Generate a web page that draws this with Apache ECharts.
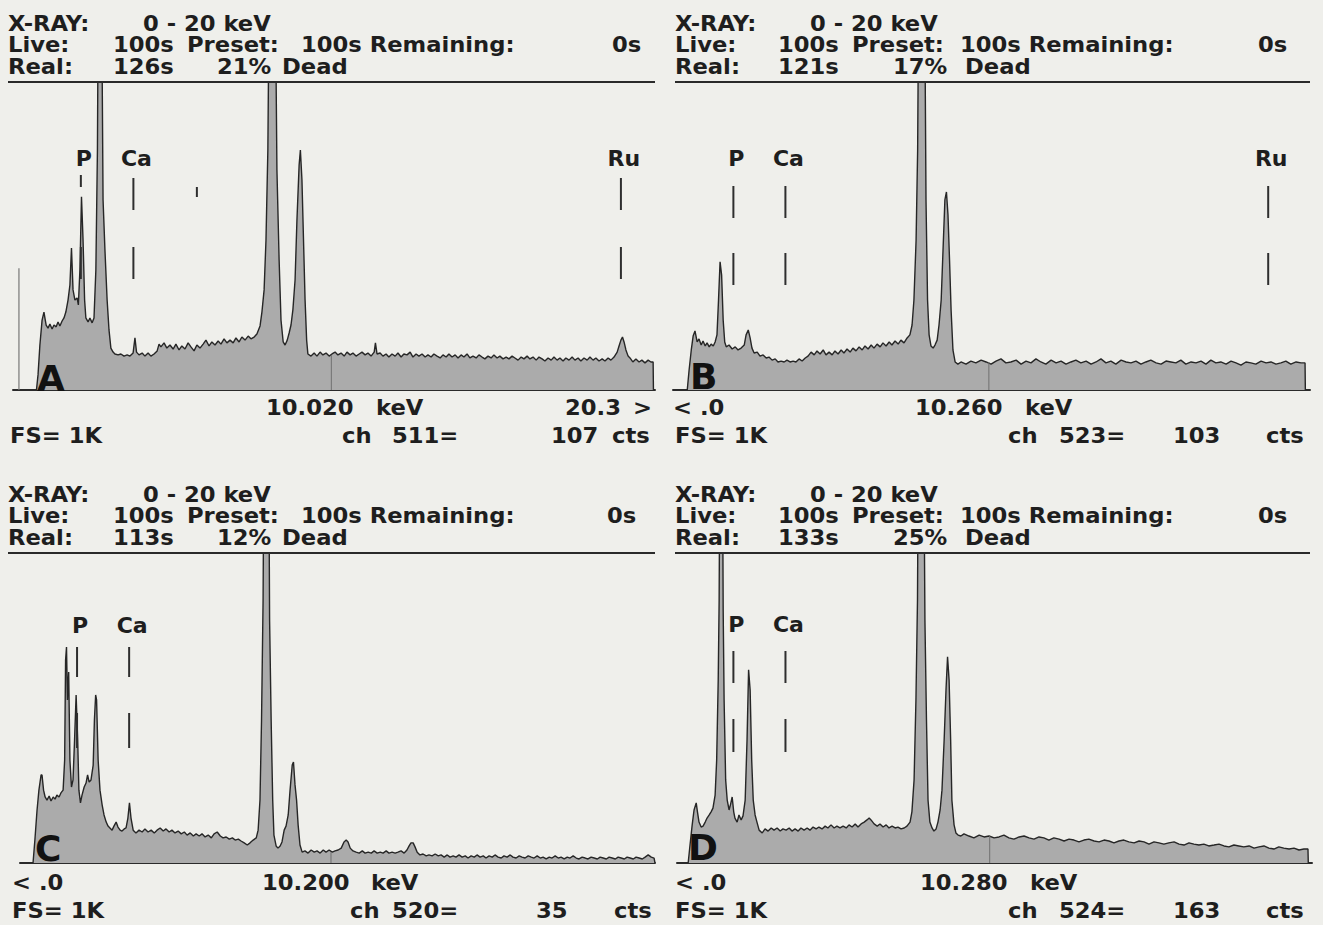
<!DOCTYPE html>
<html><head><meta charset="utf-8">
<script src="https://cdn.jsdelivr.net/npm/echarts/dist/echarts.min.js"></script>
<style>html,body{margin:0;padding:0;background:#efefeb;}#c{width:1323px;height:925px;}</style>
</head><body><div id="c"></div>
<script>
// ---------- DATA ----------
const panelIds = ['A','B','C','D'];
const energyRange = ['0 - 20 keV','0 - 20 keV','0 - 20 keV','0 - 20 keV'];
const liveTime = [100,100,100,100];
const presetTime = [100,100,100,100];
const remainingTime = [0,0,0,0];
const realTime = [126,121,113,133];
const deadPct = [21,17,12,25];
const cursorKeV = [10.020,10.260,10.200,10.280];
const cursorChannel = [511,523,520,524];
const cursorCounts = [107,103,35,163];
const cursorLevel = [114,91,35,87];   // height of the cursor line, counts on the display scale
const fullScale = ['1K','1K','1K','1K'];
const rangeLeft = ['', '< .0', '< .0', '< .0'];
const rangeRight = ['20.3', '', '', ''];
const zeroPeakA = [[0.03,0],[0.03,395]];

const markersA = [['P',2.01],['Ca',3.69],['',5.72],['Ru',19.28]];
const markersB = [['P',2.01],['Ca',3.69],['Ru',19.28]];
const markersC = [['P',2.01],['Ca',3.69]];
const markersD = [['P',2.01],['Ca',3.69]];

const specA = [[0.59,0],[0.64,49],[0.70,146],[0.77,227],[0.83,253],[0.86,234],[0.90,211],[0.96,201],[1.02,214],[1.09,198],[1.15,211],[1.22,205],[1.28,221],[1.34,208],[1.41,224],[1.47,234],[1.53,253],[1.60,292],[1.66,341],[1.71,461],[1.76,325],[1.82,292],[1.89,299],[1.93,276],[1.98,390],[2.03,627],[2.08,487],[2.13,292],[2.17,234],[2.24,221],[2.30,234],[2.37,218],[2.43,234],[2.49,390],[2.54,779],[2.57,1350],[2.62,1800],[2.67,1350],[2.72,617],[2.78,455],[2.85,292],[2.91,195],[2.97,136],[3.04,123],[3.10,117],[3.20,114],[3.29,117],[3.39,110],[3.49,114],[3.58,110],[3.68,120],[3.74,169],[3.79,123],[3.87,114],[3.97,120],[4.06,110],[4.16,120],[4.25,110],[4.35,117],[4.45,127],[4.51,149],[4.57,140],[4.67,153],[4.76,136],[4.86,146],[4.96,133],[5.05,149],[5.15,130],[5.24,143],[5.34,133],[5.44,153],[5.53,140],[5.63,127],[5.72,146],[5.82,136],[5.92,149],[6.01,162],[6.11,143],[6.20,156],[6.30,146],[6.40,159],[6.49,149],[6.59,166],[6.68,153],[6.78,162],[6.88,153],[6.97,169],[7.07,156],[7.16,172],[7.26,162],[7.36,175],[7.45,166],[7.55,172],[7.64,182],[7.74,208],[7.80,253],[7.87,325],[7.93,487],[7.99,779],[8.04,1400],[8.12,1800],[8.22,1400],[8.28,714],[8.35,422],[8.41,227],[8.48,156],[8.54,146],[8.61,162],[8.67,185],[8.73,211],[8.79,260],[8.86,357],[8.92,552],[8.99,731],[9.03,779],[9.08,682],[9.13,487],[9.18,292],[9.23,162],[9.27,117],[9.37,110],[9.47,120],[9.56,110],[9.66,123],[9.75,114],[9.85,120],[9.95,110],[10.04,117],[10.14,123],[10.23,114],[10.33,120],[10.43,110],[10.52,123],[10.62,114],[10.71,120],[10.81,110],[10.91,117],[11.00,123],[11.10,114],[11.19,120],[11.29,110],[11.39,123],[11.43,153],[11.48,117],[11.58,120],[11.67,110],[11.77,117],[11.86,107],[11.96,117],[12.06,110],[12.15,120],[12.25,107],[12.34,117],[12.44,114],[12.54,123],[12.63,107],[12.73,117],[12.82,110],[12.92,117],[13.02,107],[13.11,114],[13.21,107],[13.30,117],[13.40,110],[13.50,104],[13.59,114],[13.69,107],[13.78,117],[13.88,107],[13.98,114],[14.07,104],[14.17,114],[14.26,107],[14.36,117],[14.45,104],[14.55,110],[14.65,104],[14.74,114],[14.84,107],[14.93,101],[15.03,110],[15.13,104],[15.22,114],[15.32,104],[15.41,110],[15.51,101],[15.61,107],[15.70,101],[15.80,110],[15.89,104],[15.99,97],[16.09,107],[16.18,101],[16.28,110],[16.37,101],[16.47,107],[16.57,97],[16.66,107],[16.76,101],[16.85,94],[16.95,104],[17.05,97],[17.14,107],[17.24,97],[17.33,104],[17.43,94],[17.52,104],[17.62,97],[17.72,107],[17.81,97],[17.91,104],[18.00,94],[18.10,104],[18.20,97],[18.29,107],[18.39,97],[18.48,104],[18.58,94],[18.68,101],[18.77,94],[18.87,104],[18.96,97],[19.06,107],[19.16,123],[19.22,143],[19.28,162],[19.33,172],[19.38,156],[19.44,130],[19.51,110],[19.57,104],[19.66,91],[19.76,101],[19.86,91],[19.95,97],[20.05,88],[20.15,97],[20.24,91],[20.31,91],[20.32,0]];

const specB = [[0.52,0],[0.58,65],[0.65,130],[0.71,175],[0.77,192],[0.84,156],[0.90,166],[0.97,146],[1.03,159],[1.10,143],[1.16,153],[1.23,140],[1.29,149],[1.36,143],[1.42,156],[1.48,179],[1.53,292],[1.58,416],[1.63,373],[1.68,227],[1.73,156],[1.78,140],[1.87,146],[1.97,133],[2.07,140],[2.16,130],[2.26,136],[2.36,146],[2.42,179],[2.49,195],[2.55,169],[2.61,136],[2.68,120],[2.78,123],[2.87,110],[2.97,114],[3.07,104],[3.16,107],[3.26,97],[3.36,101],[3.45,91],[3.55,94],[3.65,91],[3.74,97],[3.84,91],[3.94,94],[4.03,91],[4.13,101],[4.23,94],[4.33,104],[4.42,110],[4.52,123],[4.62,114],[4.71,127],[4.81,117],[4.91,130],[5.00,114],[5.10,123],[5.20,114],[5.29,127],[5.39,117],[5.49,130],[5.58,120],[5.68,133],[5.78,123],[5.87,136],[5.97,127],[6.07,140],[6.17,130],[6.26,143],[6.36,133],[6.46,146],[6.55,136],[6.65,149],[6.75,140],[6.84,153],[6.94,143],[7.04,156],[7.13,146],[7.23,159],[7.33,149],[7.42,162],[7.52,153],[7.62,169],[7.71,179],[7.78,211],[7.84,292],[7.91,487],[7.96,779],[8.00,1400],[8.10,1800],[8.18,1400],[8.23,617],[8.28,292],[8.33,179],[8.39,143],[8.46,136],[8.52,146],[8.59,162],[8.65,211],[8.72,292],[8.78,455],[8.84,617],[8.89,643],[8.94,568],[8.99,422],[9.04,260],[9.10,130],[9.17,91],[9.26,84],[9.36,91],[9.52,84],[9.68,94],[9.84,88],[10.01,97],[10.17,91],[10.33,84],[10.49,94],[10.65,101],[10.81,88],[10.97,91],[11.14,97],[11.30,84],[11.46,94],[11.62,88],[11.78,101],[11.94,91],[12.10,84],[12.27,97],[12.43,88],[12.59,94],[12.75,84],[12.91,91],[13.07,97],[13.23,88],[13.40,94],[13.56,84],[13.72,91],[13.88,101],[14.04,88],[14.20,94],[14.36,84],[14.53,97],[14.69,91],[14.85,88],[15.01,94],[15.17,84],[15.33,91],[15.49,97],[15.66,88],[15.82,84],[15.98,94],[16.14,91],[16.30,88],[16.46,97],[16.62,84],[16.79,91],[16.95,88],[17.11,94],[17.27,84],[17.43,97],[17.59,88],[17.75,91],[17.92,84],[18.08,94],[18.24,88],[18.40,81],[18.56,91],[18.72,88],[18.88,84],[19.05,94],[19.21,88],[19.37,91],[19.53,84],[19.69,88],[19.85,94],[20.01,84],[20.18,91],[20.34,88],[20.47,88],[20.48,0]];

const specC = [[0.59,0],[0.65,74],[0.72,171],[0.78,235],[0.85,284],[0.88,284],[0.93,235],[0.98,213],[1.04,203],[1.11,216],[1.17,200],[1.24,213],[1.30,206],[1.36,219],[1.43,213],[1.49,226],[1.56,235],[1.61,332],[1.64,655],[1.67,697],[1.70,526],[1.74,616],[1.78,332],[1.83,245],[1.88,268],[1.93,397],[1.98,542],[2.03,397],[2.07,235],[2.12,194],[2.17,219],[2.24,245],[2.30,258],[2.35,284],[2.40,261],[2.46,268],[2.53,316],[2.57,461],[2.61,542],[2.64,526],[2.69,332],[2.75,235],[2.82,187],[2.88,155],[2.95,132],[3.01,119],[3.07,113],[3.14,106],[3.20,119],[3.27,132],[3.33,116],[3.40,106],[3.46,103],[3.53,110],[3.59,113],[3.65,145],[3.70,194],[3.75,145],[3.82,106],[3.91,97],[4.01,106],[4.11,100],[4.20,110],[4.30,100],[4.40,106],[4.50,97],[4.59,106],[4.69,113],[4.79,103],[4.88,110],[4.98,100],[5.07,106],[5.17,97],[5.27,103],[5.37,94],[5.47,100],[5.56,90],[5.66,97],[5.76,87],[5.85,94],[5.95,87],[6.04,94],[6.14,84],[6.24,90],[6.34,81],[6.43,94],[6.53,100],[6.63,87],[6.72,81],[6.82,84],[6.92,77],[7.02,81],[7.11,74],[7.21,77],[7.30,71],[7.40,65],[7.50,58],[7.59,65],[7.69,74],[7.79,81],[7.85,106],[7.91,203],[7.96,461],[8.01,848],[8.04,1400],[8.12,1800],[8.19,1400],[8.22,784],[8.27,461],[8.32,203],[8.36,90],[8.43,55],[8.49,48],[8.56,55],[8.62,68],[8.69,106],[8.75,119],[8.82,155],[8.88,235],[8.95,316],[8.99,326],[9.04,252],[9.09,203],[9.14,123],[9.20,58],[9.27,35],[9.36,39],[9.46,32],[9.56,42],[9.66,35],[9.75,39],[9.85,32],[9.95,42],[10.04,35],[10.14,42],[10.24,35],[10.33,39],[10.43,42],[10.53,48],[10.62,68],[10.69,74],[10.75,68],[10.82,48],[10.91,39],[11.01,35],[11.11,32],[11.21,39],[11.30,32],[11.40,35],[11.50,32],[11.59,39],[11.69,32],[11.79,35],[11.88,32],[11.98,39],[12.07,32],[12.17,35],[12.27,32],[12.36,35],[12.46,39],[12.56,32],[12.65,42],[12.72,55],[12.78,65],[12.85,65],[12.91,52],[12.98,35],[13.07,26],[13.17,29],[13.27,23],[13.36,26],[13.46,23],[13.56,29],[13.66,23],[13.75,26],[13.85,19],[13.95,26],[14.04,19],[14.14,23],[14.23,19],[14.33,26],[14.43,19],[14.53,23],[14.62,16],[14.72,23],[14.82,19],[14.91,26],[15.01,19],[15.11,23],[15.20,16],[15.30,23],[15.40,19],[15.49,26],[15.59,19],[15.69,16],[15.78,23],[15.88,19],[15.98,26],[16.07,19],[16.17,16],[16.27,23],[16.36,19],[16.46,16],[16.56,23],[16.66,19],[16.75,16],[16.85,23],[16.95,16],[17.04,19],[17.14,13],[17.24,19],[17.33,16],[17.43,23],[17.53,16],[17.62,19],[17.72,13],[17.82,19],[17.91,16],[18.01,23],[18.11,16],[18.20,13],[18.30,19],[18.40,16],[18.49,13],[18.59,19],[18.69,16],[18.79,13],[18.88,19],[18.98,16],[19.08,13],[19.17,19],[19.27,16],[19.37,13],[19.46,19],[19.56,16],[19.66,13],[19.75,19],[19.85,16],[19.95,13],[20.04,19],[20.14,16],[20.24,13],[20.33,19],[20.43,26],[20.53,19],[20.62,16],[20.65,0]];

const specD = [[0.55,0],[0.61,58],[0.68,123],[0.74,171],[0.81,194],[0.85,165],[0.90,132],[0.97,116],[1.03,119],[1.10,132],[1.16,145],[1.23,155],[1.29,165],[1.35,177],[1.42,219],[1.47,332],[1.52,590],[1.55,848],[1.58,1500],[1.62,1800],[1.65,1500],[1.68,816],[1.71,526],[1.76,268],[1.81,203],[1.87,171],[1.92,190],[1.97,213],[2.02,165],[2.06,145],[2.13,132],[2.19,155],[2.26,139],[2.32,152],[2.39,203],[2.45,397],[2.50,623],[2.55,558],[2.60,332],[2.65,203],[2.71,155],[2.77,132],[2.84,106],[2.94,97],[3.03,110],[3.13,103],[3.23,113],[3.32,106],[3.42,113],[3.52,103],[3.61,110],[3.71,106],[3.81,113],[3.90,103],[4.00,110],[4.10,103],[4.19,113],[4.29,106],[4.39,113],[4.48,106],[4.58,116],[4.68,110],[4.77,116],[4.87,110],[4.97,119],[5.06,113],[5.16,123],[5.26,113],[5.35,119],[5.45,113],[5.55,119],[5.65,113],[5.74,123],[5.84,116],[5.94,126],[6.03,116],[6.13,126],[6.23,132],[6.32,139],[6.39,145],[6.45,139],[6.55,126],[6.65,119],[6.74,126],[6.84,116],[6.94,123],[7.03,113],[7.13,119],[7.23,113],[7.32,116],[7.42,110],[7.52,113],[7.61,119],[7.71,132],[7.77,165],[7.84,268],[7.90,526],[7.95,848],[7.98,1400],[8.06,1800],[8.15,1400],[8.19,784],[8.24,461],[8.29,203],[8.35,132],[8.42,113],[8.48,103],[8.55,110],[8.61,132],[8.68,171],[8.74,235],[8.81,397],[8.87,558],[8.92,665],[8.97,590],[9.02,397],[9.06,203],[9.13,123],[9.19,97],[9.26,90],[9.35,87],[9.45,94],[9.61,87],[9.77,81],[9.94,90],[10.10,84],[10.26,87],[10.42,81],[10.58,84],[10.74,90],[10.90,81],[11.06,77],[11.23,84],[11.39,87],[11.55,81],[11.71,77],[11.87,84],[12.03,81],[12.19,74],[12.35,81],[12.52,77],[12.68,71],[12.84,77],[13.00,74],[13.16,68],[13.32,74],[13.48,77],[13.65,71],[13.81,68],[13.97,74],[14.13,71],[14.29,65],[14.45,71],[14.61,74],[14.77,68],[14.94,65],[15.10,71],[15.26,68],[15.42,61],[15.58,68],[15.74,65],[15.90,61],[16.06,65],[16.23,68],[16.39,61],[16.55,58],[16.71,65],[16.87,61],[17.03,58],[17.19,61],[17.35,55],[17.52,58],[17.68,61],[17.84,55],[18.00,52],[18.16,58],[18.32,55],[18.48,52],[18.65,55],[18.81,48],[18.97,52],[19.13,55],[19.29,48],[19.45,45],[19.61,52],[19.77,48],[19.94,45],[20.10,48],[20.26,42],[20.42,45],[20.55,45],[20.56,0]];

const spectra = [specA, specB, specC, specD];
const markers = [markersA, markersB, markersC, markersD];

// ---------- LAYOUT ----------
const INK = '#1e1e1e';
const layout = [
  {grid:{left:13, top:82, width:642, height:308}, xmin:-0.16, xmax:20.37, hline:[8,655,82],
   hx:{xray:8, range:143, live:8, liveVal:113, preset:187, presetVal:301, remain:612, real:8, realVal:113, dead:217, deadW:282},
   hy:[23.5,45,66.5], fy:[408,436],
   fx:{left:8, cur:266, kev:376, right:565, arrow:633, fs:10, ch:342, chv:392, cnt:551, cts:612},
   letter:[37,378], lab:76, segs:[[96,128],[165,197]], segOver:{0:[[93,105],[165,197]],2:[[105,115]]}},
  {grid:{left:673, top:82, width:637, height:308}, xmin:0.06, xmax:20.63, hline:[675,1310,82],
   hx:{xray:675, range:810, live:675, liveVal:778, preset:852, presetVal:960, remain:1258, real:675, realVal:778, dead:893, deadW:965},
   hy:[23.5,45,66.5], fy:[408,436],
   fx:{left:673, cur:915, kev:1025, right:1240, arrow:1290, fs:675, ch:1008, chv:1059, cnt:1173, cts:1266},
   letter:[690,376], lab:76, segs:[[104,136],[171,203]], segOver:{}},
  {grid:{left:20, top:553, width:635, height:310}, xmin:0.17, xmax:20.65, hline:[8,655,553],
   hx:{xray:8, range:143, live:8, liveVal:113, preset:187, presetVal:301, remain:607, real:8, realVal:113, dead:217, deadW:282},
   hy:[494.5,516,537.5], fy:[883,911],
   fx:{left:12, cur:262, kev:371, right:565, arrow:633, fs:12, ch:350, chv:392, cnt:536, cts:614},
   letter:[35,848], lab:72, segs:[[94,124],[160,195]], segOver:{}},
  {grid:{left:677, top:553, width:635, height:310}, xmin:0.19, xmax:20.68, hline:[675,1310,553],
   hx:{xray:675, range:810, live:675, liveVal:778, preset:852, presetVal:960, remain:1258, real:675, realVal:778, dead:893, deadW:965},
   hy:[494.5,516,537.5], fy:[883,911],
   fx:{left:675, cur:920, kev:1030, right:1240, arrow:1290, fs:675, ch:1008, chv:1059, cnt:1173, cts:1266},
   letter:[688,847], lab:71, segs:[[98,130],[166,199]], segOver:{}}
];

function T(x, y, text) {
  return {type:'text', x:x, y:y, scaleX:1.08, z:100, silent:true,
    style:{text:text, fill:INK, fontFamily:'DejaVu Sans', fontWeight:'bold', fontSize:21,
           align:'left', verticalAlign:'middle'}};
}

const grids=[], xAxes=[], yAxes=[], series=[], graphics=[];
panelIds.forEach((id, i) => {
  const L = layout[i];
  grids.push(L.grid);
  xAxes.push({type:'value', gridIndex:i, min:L.xmin, max:L.xmax,
    axisLine:{show:true, onZero:false, lineStyle:{color:'#2a2a2a', width:2}},
    axisTick:{show:false}, axisLabel:{show:false}, splitLine:{show:false}});
  yAxes.push({type:'value', gridIndex:i, min:0, max:1000, show:false, splitLine:{show:false}});
  series.push({type:'line', xAxisIndex:i, yAxisIndex:i, data:spectra[i], symbol:'none', clip:true,
    lineStyle:{color:'#262626', width:1.4}, areaStyle:{color:'#ababab', opacity:1}, z:2, silent:true});
  series.push({type:'line', xAxisIndex:i, yAxisIndex:i, data:[[cursorKeV[i],0],[cursorKeV[i],cursorLevel[i]]],
    symbol:'none', lineStyle:{color:'#707070', width:1}, z:3, silent:true});
  if (i === 0) {
    series.push({type:'line', xAxisIndex:0, yAxisIndex:0, data:zeroPeakA, symbol:'none',
      lineStyle:{color:'#777', width:1.2}, z:3, silent:true});
  }
  const mk = markers[i];
  series.push({type:'custom', xAxisIndex:i, yAxisIndex:i, z:4, silent:true,
    data: mk.map(m => [m[1], 0]),
    renderItem: function(params, api) {
      const m = mk[params.dataIndex];
      const x = api.coord([api.value(0), 0])[0];
      const top = params.coordSys.y;
      const segs = L.segOver[params.dataIndex] || L.segs;
      const ch = segs.map(s => ({type:'rect', shape:{x:x-1, y:top+s[0], width:2, height:s[1]-s[0]},
        style:{fill:'#2e2e2e'}}));
      if (m[0]) ch.push({type:'text', style:{text:m[0], x:x+3, y:top+L.lab, align:'center', verticalAlign:'middle',
        fontFamily:'DejaVu Sans', fontWeight:'bold', fontSize:22, fill:INK}});
      return {type:'group', children:ch};
    }});

  // header
  const hx = L.hx, hy = L.hy;
  graphics.push({type:'line', z:100, shape:{x1:L.hline[0], y1:L.hline[2], x2:L.hline[1], y2:L.hline[2]},
    style:{stroke:'#2a2a2a', lineWidth:2}});
  graphics.push(T(hx.xray, hy[0], 'X-RAY:'));
  graphics.push(T(hx.range, hy[0], energyRange[i]));
  graphics.push(T(hx.live, hy[1], 'Live:'));
  graphics.push(T(hx.liveVal, hy[1], liveTime[i] + 's'));
  graphics.push(T(hx.preset, hy[1], 'Preset:'));
  graphics.push(T(hx.presetVal, hy[1], presetTime[i] + 's Remaining:'));
  graphics.push(T(hx.remain, hy[1], remainingTime[i] + 's'));
  graphics.push(T(hx.real, hy[2], 'Real:'));
  graphics.push(T(hx.realVal, hy[2], realTime[i] + 's'));
  graphics.push(T(hx.dead, hy[2], deadPct[i] + '%'));
  graphics.push(T(hx.deadW, hy[2], 'Dead'));
  // footer
  const fx = L.fx, fy = L.fy;
  if (rangeLeft[i]) graphics.push(T(fx.left, fy[0], rangeLeft[i]));
  graphics.push(T(fx.cur, fy[0], cursorKeV[i].toFixed(3)));
  graphics.push(T(fx.kev, fy[0], 'keV'));
  if (rangeRight[i]) { graphics.push(T(fx.right, fy[0], rangeRight[i])); graphics.push(T(fx.arrow, fy[0], '>')); }
  graphics.push(T(fx.fs, fy[1], 'FS= ' + fullScale[i]));
  graphics.push(T(fx.ch, fy[1], 'ch'));
  graphics.push(T(fx.chv, fy[1], cursorChannel[i] + '='));
  graphics.push(T(fx.cnt, fy[1], String(cursorCounts[i])));
  graphics.push(T(fx.cts, fy[1], 'cts'));
  // panel letter
  graphics.push({type:'text', x:L.letter[0], y:L.letter[1], z:110, silent:true,
    style:{text:id, fill:'#111', fontFamily:'DejaVu Sans', fontWeight:'bold', fontSize:36, align:'left', verticalAlign:'middle'}});
});

const chart = echarts.init(document.getElementById('c'), null, {renderer:'svg'});
chart.setOption({
  backgroundColor:'#efefeb',
  animation:false,
  grid:grids, xAxis:xAxes, yAxis:yAxes, series:series, graphic:graphics
});
</script></body></html>
